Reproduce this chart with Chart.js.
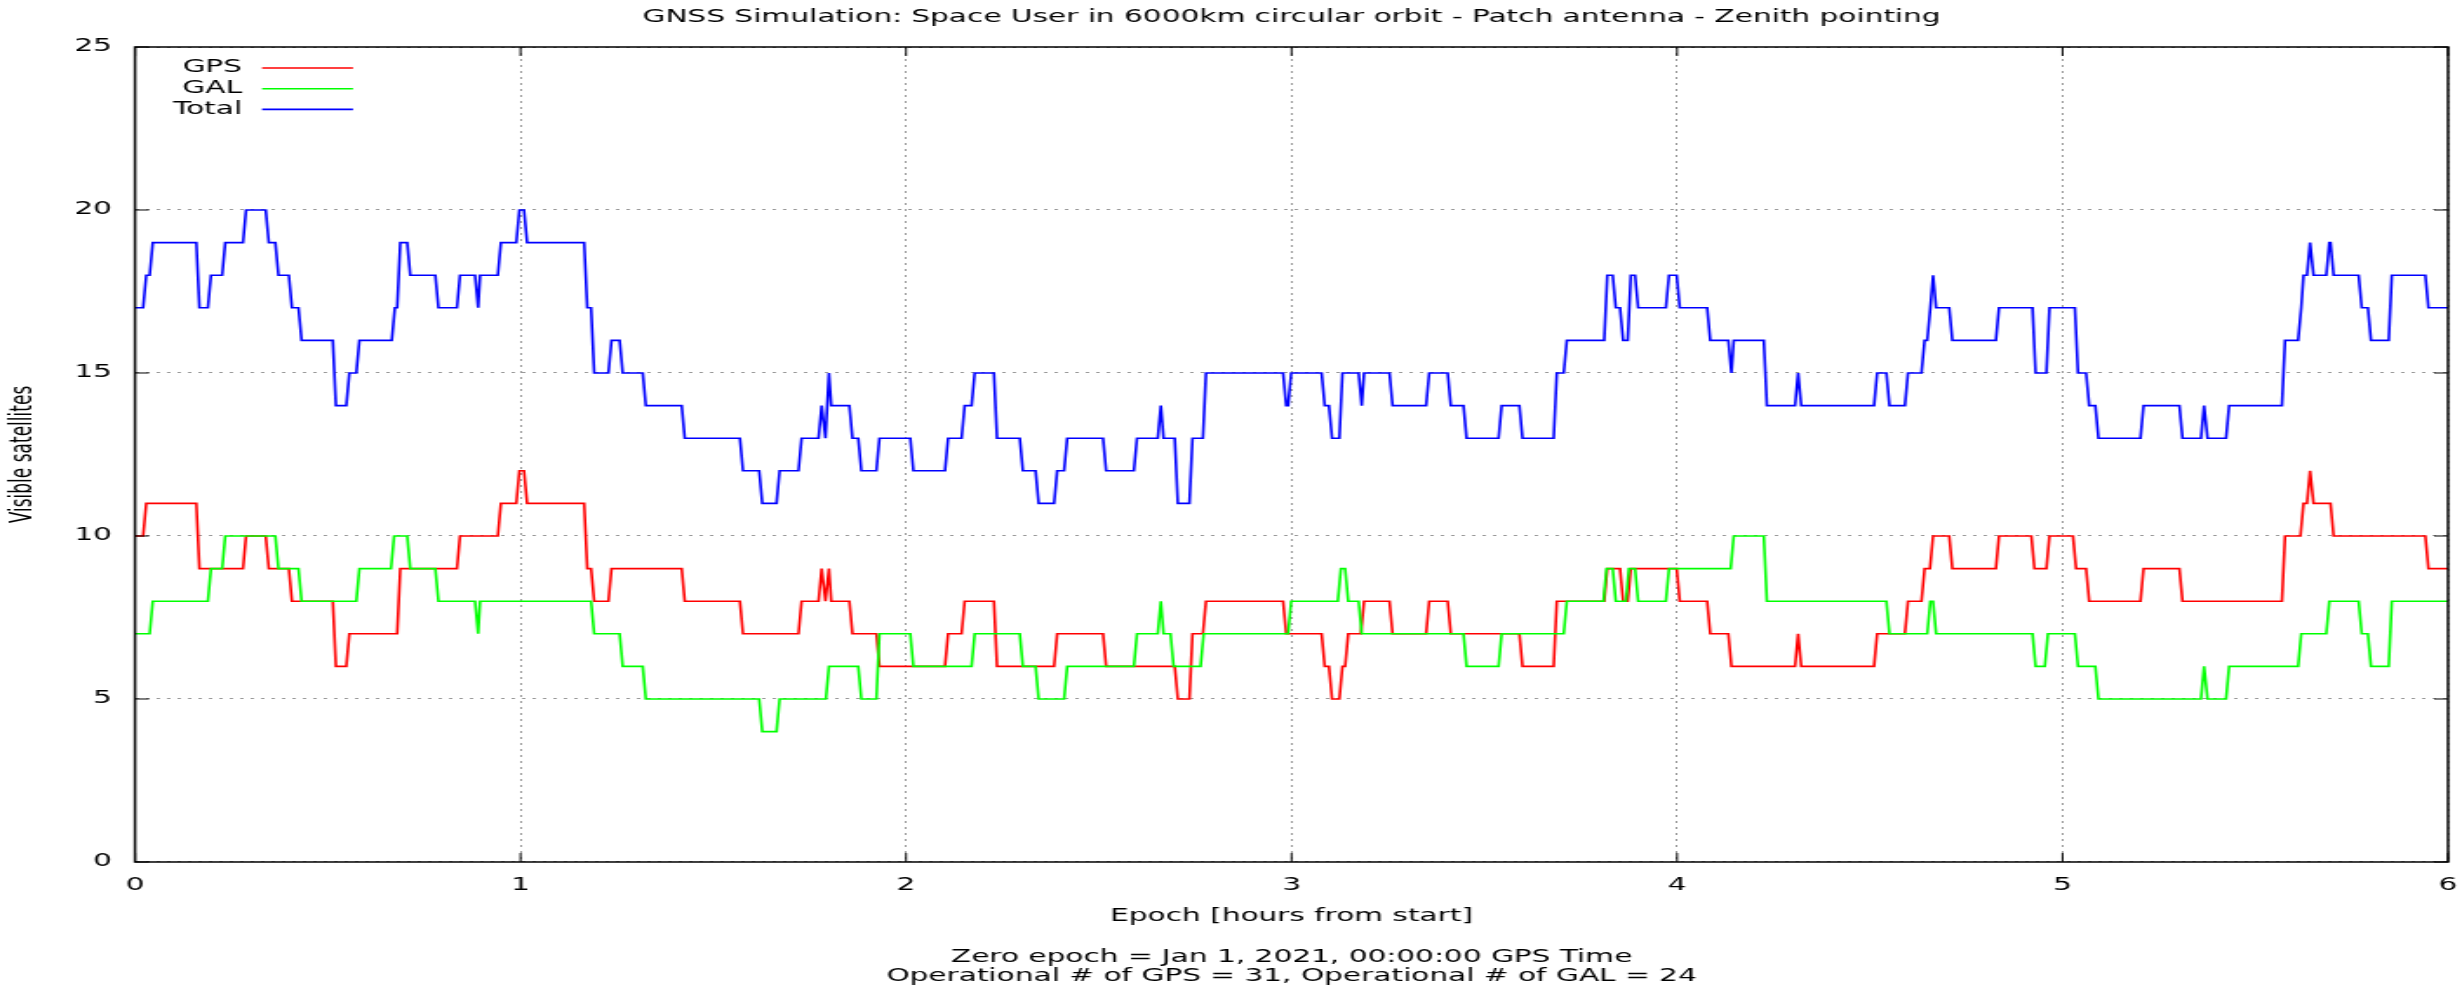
<!DOCTYPE html>
<html lang="en">
<head>
  <meta charset="UTF-8" />
  <title>GNSS Simulation - Visible satellites</title>
  <style>
    * {
      margin: 0;
      padding: 0;
      box-sizing: border-box;
    }

    body {
      background-color: #fff;
      width: 2462px;
      height: 991px;
      overflow: hidden;
    }
  </style>
</head>
<body>
  <!-- the original plot is a gnuplot png stretched sideways, so the canvas is too -->
  <canvas id="visChart" width="1415" height="991" style="display:block;width:2462px;height:991px"></canvas>

  <script src="https://cdn.jsdelivr.net/npm/chart.js"></script>
  <script>
    const seriesNames = ['GPS', 'GAL', 'Total'];
    const seriesColors = ['#ff0000', '#00ff00', '#0000ff'];
    const xTicks = [0, 1, 2, 3, 4, 5, 6];
    const yTicks = [0, 5, 10, 15, 20, 25];

    // hour at which each new count is reached, and the count
    const gpsTimes = [0, 0.029, 0.167, 0.288, 0.347, 0.407, 0.521, 0.556, 0.688, 0.843,
      0.949, 0.997, 1.017, 1.173, 1.191, 1.236, 1.426, 1.577, 1.729, 1.781,
      1.791, 1.800, 1.806, 1.861, 1.931, 2.109, 2.152, 2.236, 2.392, 2.519,
      2.705, 2.743, 2.778, 2.986, 3.086, 3.105, 3.132, 3.147, 3.188, 3.262,
      3.357, 3.413, 3.599, 3.688, 3.819, 3.860, 3.880, 4.007, 4.086, 4.141,
      4.314, 4.322, 4.519, 4.599, 4.642, 4.664, 4.714, 4.835, 4.927, 4.966,
      5.035, 5.069, 5.210, 5.311, 5.577, 5.625, 5.642, 5.651, 5.703, 5.949];
    const gpsCounts = [10, 11, 9, 10, 9, 8, 6, 7, 9, 10,
      11, 12, 11, 9, 8, 9, 8, 7, 8, 9,
      8, 9, 8, 7, 6, 7, 8, 6, 7, 6,
      5, 7, 8, 7, 6, 5, 6, 7, 8, 7,
      8, 7, 6, 8, 9, 8, 9, 8, 7, 6,
      7, 6, 7, 8, 9, 10, 9, 10, 9, 10,
      9, 8, 9, 8, 10, 11, 12, 11, 10, 9];

    const galTimes = [0, 0.046, 0.197, 0.234, 0.372, 0.432, 0.582, 0.672, 0.714, 0.787,
      0.890, 0.895, 1.191, 1.265, 1.325, 1.627, 1.672, 1.800, 1.884, 1.931,
      2.019, 2.178, 2.303, 2.344, 2.418, 2.599, 2.661, 2.668, 2.694, 2.772,
      2.999, 3.128, 3.147, 3.182, 3.454, 3.545, 3.714, 3.817, 3.841, 3.875,
      3.899, 3.979, 4.147, 4.233, 4.551, 4.657, 4.672, 4.930, 4.962, 5.040,
      5.093, 5.367, 5.376, 5.432, 5.619, 5.692, 5.776, 5.800, 5.854];
    const galCounts = [7, 8, 9, 10, 9, 8, 9, 10, 9, 8,
      7, 8, 7, 6, 5, 4, 5, 6, 5, 7,
      6, 7, 6, 5, 6, 7, 8, 7, 6, 7,
      8, 9, 8, 7, 6, 7, 8, 9, 8, 9,
      8, 9, 10, 8, 7, 8, 7, 6, 7, 6,
      5, 6, 5, 6, 7, 8, 7, 6, 8];

    const totalTimes = [0, 0.029, 0.046, 0.167, 0.197, 0.234, 0.288, 0.347, 0.372, 0.407,
      0.432, 0.521, 0.556, 0.582, 0.674, 0.688, 0.714, 0.787, 0.843, 0.890,
      0.895, 0.949, 0.997, 1.017, 1.173, 1.191, 1.236, 1.265, 1.325, 1.426,
      1.577, 1.627, 1.672, 1.729, 1.781, 1.791, 1.800, 1.806, 1.861, 1.884,
      1.931, 2.019, 2.109, 2.152, 2.178, 2.236, 2.303, 2.344, 2.392, 2.418,
      2.519, 2.599, 2.661, 2.668, 2.705, 2.743, 2.778, 2.986, 2.999, 3.086,
      3.105, 3.132, 3.182, 3.188, 3.262, 3.357, 3.413, 3.454, 3.545, 3.599,
      3.688, 3.714, 3.819, 3.841, 3.860, 3.880, 3.899, 3.979, 4.007, 4.086,
      4.141, 4.147, 4.233, 4.314, 4.322, 4.519, 4.551, 4.599, 4.642, 4.657,
      4.664, 4.672, 4.714, 4.835, 4.930, 4.966, 5.040, 5.069, 5.093, 5.210,
      5.311, 5.367, 5.376, 5.432, 5.577, 5.619, 5.625, 5.642, 5.651, 5.692,
      5.703, 5.776, 5.800, 5.854, 5.949];
    const totalCounts = [17, 18, 19, 17, 18, 19, 20, 19, 18, 17,
      16, 14, 15, 16, 17, 19, 18, 17, 18, 17,
      18, 19, 20, 19, 17, 15, 16, 15, 14, 13,
      12, 11, 12, 13, 14, 13, 15, 14, 13, 12,
      13, 12, 13, 14, 15, 13, 12, 11, 12, 13,
      12, 13, 14, 13, 11, 13, 15, 14, 15, 14,
      13, 15, 14, 15, 14, 15, 14, 13, 14, 13,
      15, 16, 18, 17, 16, 18, 17, 18, 17, 16,
      15, 16, 14, 15, 14, 15, 14, 15, 16, 17,
      18, 17, 16, 17, 15, 17, 15, 14, 13, 14,
      13, 14, 13, 14, 16, 17, 18, 19, 18, 19,
      18, 17, 16, 18, 17];

    const titleText = 'GNSS Simulation: Space User in 6000km circular orbit - Patch antenna - Zenith pointing';
    const footerText = ['Zero epoch = Jan 1, 2021, 00:00:00 GPS Time',
      'Operational # of GPS = 31, Operational # of GAL = 24'];

    // one sample step (~30 s) is drawn as a short slope, like the sampled original
    const RAMP = 0.008;
    const END_HOUR = xTicks[xTicks.length - 1];

    function toPoints(times, counts) {
      const pts = [];
      times.forEach((t, i) => {
        pts.push({ x: t, y: counts[i] });
        const leave = i < times.length - 1 ? times[i + 1] - RAMP : END_HOUR;
        if (leave > t) pts.push({ x: leave, y: counts[i] });
      });
      return pts;
    }

    // gnuplot look: closed frame, inward ticks, key inside top-left
    const gnuplotFrame = {
      id: 'gnuplotFrame',
      afterDraw(chart) {
        const { ctx, chartArea: a, scales } = chart;
        ctx.save();
        ctx.strokeStyle = '#000';
        ctx.lineWidth = 1;
        ctx.beginPath();
        scales.x.ticks.forEach(t => {
          const px = scales.x.getPixelForValue(t.value);
          ctx.moveTo(px, a.bottom);
          ctx.lineTo(px, a.bottom - 9);
          ctx.moveTo(px, a.top);
          ctx.lineTo(px, a.top + 9);
        });
        scales.y.ticks.forEach(t => {
          const py = scales.y.getPixelForValue(t.value);
          ctx.moveTo(a.left, py);
          ctx.lineTo(a.left + 8, py);
          ctx.moveTo(a.right, py);
          ctx.lineTo(a.right - 8, py);
        });
        ctx.stroke();

        ctx.lineWidth = 1.5;
        ctx.strokeRect(a.left, a.top, a.right - a.left, a.bottom - a.top);

        ctx.font = "17px 'DejaVu Sans', sans-serif";
        ctx.textAlign = 'right';
        ctx.textBaseline = 'middle';
        chart.data.datasets.forEach((ds, i) => {
          const y = a.top + 21 + i * 20.7;
          ctx.fillStyle = '#000';
          ctx.fillText(ds.label, a.left + 61.5, y);
          ctx.strokeStyle = ds.borderColor;
          ctx.lineWidth = 1.6;
          ctx.beginPath();
          ctx.moveTo(a.left + 73, y);
          ctx.lineTo(a.left + 125.3, y);
          ctx.stroke();
        });
        ctx.restore();
      }
    };

    Chart.defaults.font.family = "'DejaVu Sans', sans-serif";
    Chart.defaults.font.size = 17;
    Chart.defaults.color = '#000';

    const seriesData = [
      toPoints(gpsTimes, gpsCounts),
      toPoints(galTimes, galCounts),
      toPoints(totalTimes, totalCounts)
    ];

    const ctx = document.getElementById('visChart').getContext('2d');
    new Chart(ctx, {
      type: 'line',
      data: {
        datasets: seriesNames.map((name, i) => ({
          label: name,
          data: seriesData[i],
          borderColor: seriesColors[i],
          backgroundColor: seriesColors[i],
          borderWidth: 1.6,
          pointRadius: 0,
          tension: 0,
          fill: false,
          order: seriesNames.length - i
        }))
      },
      options: {
        responsive: false,
        devicePixelRatio: 1,
        animation: false,
        layout: { padding: { left: 0, right: 8, top: 0, bottom: 0 } },
        plugins: {
          legend: { display: false },
          tooltip: { enabled: false },
          title: {
            display: true,
            text: titleText,
            fullSize: false,
            font: { size: 17, weight: 'normal' },
            padding: { top: 7.3, bottom: 19.3 }
          },
          subtitle: {
            display: true,
            position: 'bottom',
            text: footerText,
            fullSize: false,
            font: { size: 17, lineHeight: 1.09 },
            padding: { top: 0, bottom: 5.25 }
          }
        },
        scales: {
          x: {
            type: 'linear',
            min: xTicks[0],
            max: END_HOUR,
            afterBuildTicks: scale => { scale.ticks = xTicks.map(v => ({ value: v })); },
            ticks: { padding: 13.8 },
            grid: { color: '#9a9a9a', lineWidth: 1, drawTicks: false },
            border: { display: false, dash: [2, 4] },
            title: {
              display: true,
              text: 'Epoch [hours from start]',
              padding: { top: 0, bottom: 21.5 }
            },
            afterFit: scale => {
              scale.height = 86.7;
              scale.paddingLeft = 0;
              scale.paddingRight = 0;
            }
          },
          y: {
            type: 'linear',
            min: yTicks[0],
            max: yTicks[yTicks.length - 1],
            afterBuildTicks: scale => { scale.ticks = yTicks.map(v => ({ value: v })); },
            ticks: { padding: 13.2 },
            grid: { color: '#9a9a9a', lineWidth: 1, drawTicks: false },
            border: { display: false, dash: [2, 4] },
            title: {
              display: true,
              text: 'Visible satellites',
              padding: { top: 3.6, bottom: 0 }
            },
            afterFit: scale => { scale.width = 77.6; }
          }
        }
      },
      plugins: [gnuplotFrame]
    });
  </script>
</body>
</html>
